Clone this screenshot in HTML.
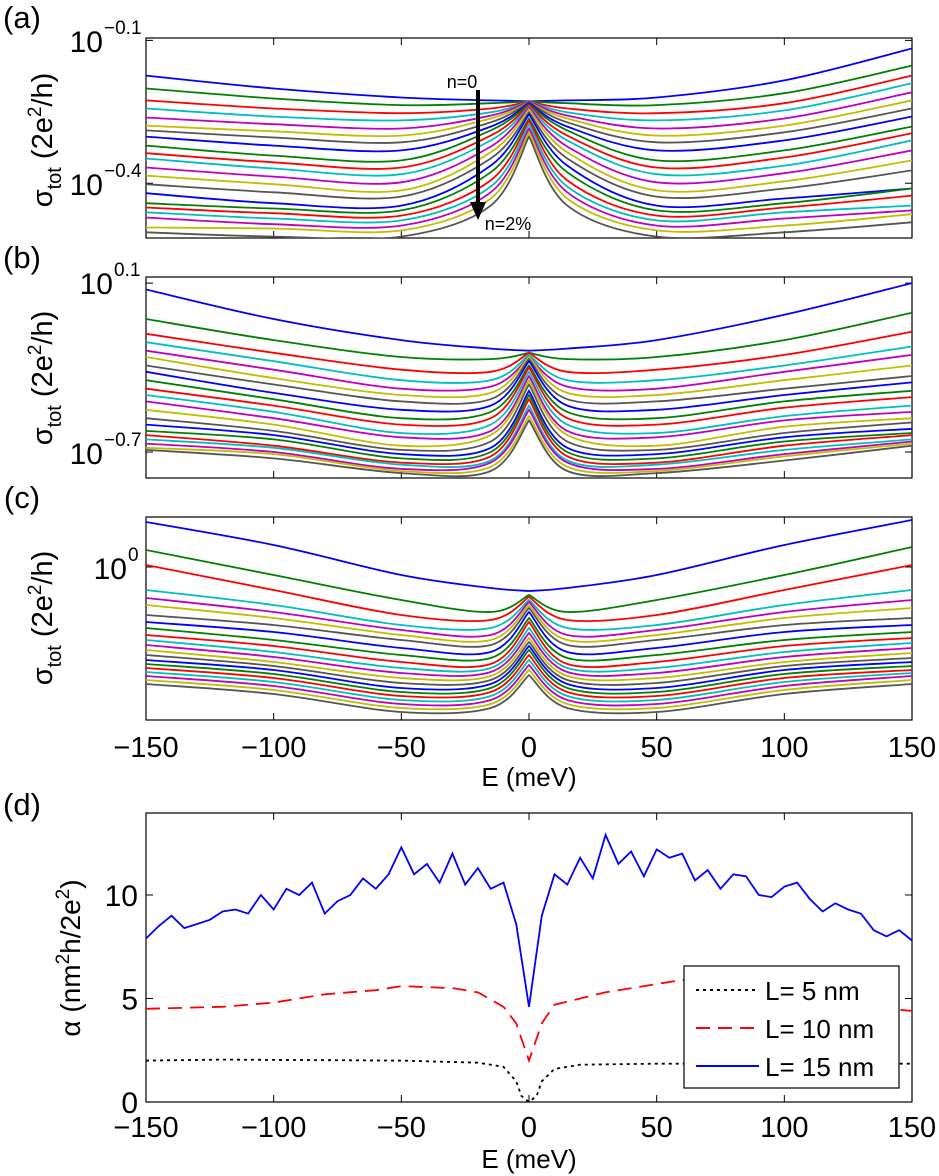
<!DOCTYPE html>
<html><head><meta charset="utf-8"><style>
body{margin:0;background:#fff}
svg{display:block;font-family:"Liberation Sans",sans-serif}
</style></head><body>
<svg id="fig" width="939" height="1176" viewBox="0 0 939 1176" xmlns="http://www.w3.org/2000/svg"></svg>
<script>
const energies=[-150,-100,-50,-15,0,15,50,100,150];
const tickE=[-150,-100,-50,0,50,100,150];
const tickELabels=["\u2212150","\u2212100","\u221250","0","50","100","150"];
const colors=["#0000ff","#008000","#ff0000","#00bfbf","#bf00bf","#bfbf00","#555555"];
const sigmaA=[
[-.174,-.201,-.220,-.226,-.228,-.226,-.220,-.184,-.117],
[-.201,-.222,-.236,-.232,-.228,-.232,-.236,-.211,-.153],
[-.226,-.243,-.253,-.243,-.228,-.243,-.253,-.232,-.174],
[-.243,-.260,-.268,-.251,-.228,-.251,-.268,-.247,-.190],
[-.262,-.276,-.285,-.258,-.228,-.258,-.285,-.264,-.209],
[-.279,-.291,-.300,-.264,-.230,-.264,-.300,-.279,-.226],
[-.289,-.304,-.314,-.272,-.230,-.272,-.314,-.293,-.243],
[-.302,-.321,-.331,-.281,-.232,-.281,-.331,-.310,-.260],
[-.321,-.342,-.352,-.289,-.234,-.289,-.352,-.331,-.281],
[-.337,-.356,-.367,-.300,-.236,-.300,-.367,-.346,-.295],
[-.348,-.369,-.381,-.310,-.239,-.310,-.381,-.363,-.310],
[-.367,-.386,-.398,-.323,-.241,-.323,-.398,-.379,-.331],
[-.384,-.402,-.415,-.335,-.245,-.335,-.415,-.396,-.352],
[-.402,-.419,-.428,-.348,-.251,-.348,-.428,-.411,-.373],
[-.421,-.442,-.447,-.363,-.255,-.363,-.447,-.432,-.411],
[-.442,-.453,-.457,-.377,-.264,-.377,-.457,-.442,-.411],
[-.451,-.463,-.468,-.394,-.268,-.394,-.468,-.451,-.426],
[-.461,-.474,-.478,-.407,-.276,-.407,-.478,-.461,-.447],
[-.472,-.486,-.489,-.419,-.285,-.419,-.489,-.474,-.457],
[-.493,-.495,-.499,-.432,-.293,-.432,-.499,-.489,-.465],
[-.503,-.512,-.512,-.447,-.302,-.447,-.512,-.503,-.482]];
const sigmaB=[
[.07,-.07,-.17,-.21,-.22,-.21,-.17,-.05,.10],
[-.07,-.17,-.25,-.26,-.23,-.26,-.25,-.17,-.04],
[-.14,-.23,-.31,-.32,-.23,-.32,-.31,-.24,-.13],
[-.18,-.27,-.36,-.36,-.24,-.36,-.36,-.29,-.20],
[-.22,-.31,-.40,-.39,-.25,-.39,-.40,-.32,-.24],
[-.25,-.35,-.43,-.42,-.25,-.42,-.43,-.36,-.29],
[-.29,-.38,-.46,-.45,-.26,-.45,-.46,-.40,-.34],
[-.32,-.42,-.50,-.48,-.27,-.48,-.50,-.43,-.37],
[-.36,-.45,-.54,-.51,-.29,-.51,-.54,-.46,-.41],
[-.40,-.48,-.57,-.54,-.30,-.54,-.57,-.49,-.44],
[-.43,-.51,-.61,-.57,-.32,-.57,-.61,-.53,-.48],
[-.46,-.54,-.63,-.60,-.34,-.60,-.63,-.55,-.51],
[-.50,-.57,-.67,-.62,-.36,-.62,-.67,-.58,-.54],
[-.54,-.60,-.69,-.65,-.38,-.65,-.69,-.61,-.56],
[-.57,-.62,-.71,-.68,-.41,-.68,-.71,-.63,-.59],
[-.60,-.64,-.73,-.70,-.43,-.70,-.73,-.65,-.61],
[-.62,-.67,-.75,-.72,-.45,-.72,-.75,-.67,-.62],
[-.64,-.68,-.76,-.74,-.48,-.74,-.76,-.69,-.64],
[-.66,-.70,-.78,-.75,-.50,-.75,-.78,-.71,-.65],
[-.68,-.71,-.79,-.77,-.53,-.77,-.79,-.72,-.66],
[-.69,-.73,-.80,-.79,-.55,-.79,-.80,-.74,-.67]];
const sigmaC=[
[.18,.088,-.032,-.084,-.096,-.084,-.032,.088,.188],
[.068,-.032,-.132,-.18,-.112,-.18,-.132,-.032,.08],
[.008,-.092,-.192,-.212,-.12,-.212,-.192,-.092,.008],
[-.092,-.152,-.232,-.244,-.132,-.244,-.232,-.152,-.092],
[-.124,-.18,-.252,-.272,-.14,-.272,-.252,-.18,-.132],
[-.152,-.204,-.272,-.292,-.152,-.292,-.272,-.204,-.164],
[-.192,-.232,-.292,-.312,-.164,-.312,-.292,-.232,-.204],
[-.22,-.26,-.324,-.34,-.18,-.34,-.324,-.26,-.232],
[-.244,-.292,-.352,-.364,-.204,-.364,-.352,-.292,-.26],
[-.272,-.316,-.38,-.388,-.22,-.388,-.38,-.316,-.284],
[-.292,-.34,-.404,-.404,-.244,-.404,-.404,-.34,-.304],
[-.312,-.36,-.424,-.42,-.264,-.42,-.424,-.36,-.324],
[-.332,-.38,-.444,-.436,-.284,-.436,-.444,-.38,-.344],
[-.352,-.396,-.464,-.452,-.3,-.452,-.464,-.396,-.364],
[-.372,-.412,-.484,-.468,-.316,-.468,-.484,-.412,-.38],
[-.388,-.428,-.5,-.484,-.332,-.484,-.5,-.428,-.396],
[-.404,-.444,-.516,-.5,-.352,-.5,-.516,-.444,-.412],
[-.42,-.46,-.532,-.516,-.372,-.516,-.532,-.46,-.424],
[-.436,-.476,-.548,-.532,-.392,-.532,-.548,-.476,-.436],
[-.452,-.492,-.564,-.548,-.412,-.548,-.564,-.492,-.452],
[-.468,-.508,-.58,-.564,-.432,-.564,-.58,-.508,-.468]];
const energiesD=[-150,-145,-140,-135,-130,-125,-120,-115,-110,-105,-100,-95,-90,-85,-80,-75,-70,-65,-60,-55,-50,-45,-40,-35,-30,-25,-20,-15,-10,-5,0,5,10,15,20,25,30,35,40,45,50,55,60,65,70,75,80,85,90,95,100,105,110,115,120,125,130,135,140,145,150];
const alphaL15=[7.9,8.5,9.0,8.4,8.6,8.8,9.2,9.3,9.1,10.0,9.3,10.3,10.0,10.6,9.1,9.7,10.0,10.8,10.3,11.0,12.3,11.0,11.5,10.6,12.0,10.5,11.3,10.3,10.6,8.6,4.6,9.0,11.0,10.5,11.8,10.8,12.9,11.5,12.1,10.9,12.2,11.8,12.0,10.7,11.2,10.3,11.0,10.9,10.0,9.9,10.4,10.6,9.8,9.2,9.6,9.3,9.1,8.3,8.0,8.3,7.8];
const energiesL10=[-150,-120,-100,-80,-60,-50,-30,-20,-10,-5,0,5,10,20,30,50,60,80,100,120,140,150];
const alphaL10=[4.5,4.6,4.8,5.2,5.4,5.6,5.5,5.3,4.6,3.8,2.0,3.8,4.7,5.0,5.3,5.7,5.9,5.7,5.3,4.8,4.5,4.4];
const energiesL5=[-150,-120,-50,-20,-10,-5,-3,0,3,5,10,20,50,100,150];
const alphaL5=[2.0,2.05,2.0,1.9,1.7,1.0,0.3,0,0.3,1.0,1.6,1.8,1.85,1.85,1.85];

const NS="http://www.w3.org/2000/svg";
const svg=document.getElementById('fig');
function mk(tag,attrs,parent){const e=document.createElementNS(NS,tag);for(const k in attrs)e.setAttribute(k,attrs[k]);(parent||svg).appendChild(e);return e;}
const X0=146,X1=912;
const xs=e=>X0+(e+150)/300*(X1-X0);
function txt(s,x,y,size,anchor,parent){const t=mk('text',{x:x,y:y,'font-size':size,'text-anchor':anchor||'middle',fill:'#000'},parent);t.textContent=s;return t;}
function powLabel(exp,xEnd,y){txt('10',xEnd,y,30,'end');txt(exp,xEnd+1,y-18,19,'start');}
function crPath(pts){
 let d='M'+pts[0][0].toFixed(1)+','+pts[0][1].toFixed(1);
 for(let i=0;i<pts.length-1;i++){const p0=pts[Math.max(0,i-1)],p1=pts[i],p2=pts[i+1],p3=pts[Math.min(pts.length-1,i+2)];
  const c1=[p1[0]+(p2[0]-p0[0])/6,p1[1]+(p2[1]-p0[1])/6],c2=[p2[0]-(p3[0]-p1[0])/6,p2[1]-(p3[1]-p1[1])/6];
  d+=' C'+c1[0].toFixed(1)+','+c1[1].toFixed(1)+' '+c2[0].toFixed(1)+','+c2[1].toFixed(1)+' '+p2[0].toFixed(1)+','+p2[1].toFixed(1);}
 return d;}
function frame(id,top,bot,yt){
 mk('rect',{x:X0,y:top,width:X1-X0,height:bot-top,fill:'none',stroke:'#000','stroke-width':1.2});
 tickE.forEach(e=>{mk('line',{x1:xs(e),x2:xs(e),y1:bot,y2:bot-7,stroke:'#000'});mk('line',{x1:xs(e),x2:xs(e),y1:top,y2:top+7,stroke:'#000'});});
 yt.forEach(y=>{mk('line',{x1:X0,x2:X0+7,y1:y,y2:y,stroke:'#000'});mk('line',{x1:X1,x2:X1-7,y1:y,y2:y,stroke:'#000'});});
 const cp=mk('clipPath',{id:'clip'+id});mk('rect',{x:X0,y:top,width:X1-X0,height:bot-top},cp);
}
function sigmaPanel(id,data,top,bot,vTop,vBot){
 const ys=v=>top+(vTop-v)/(vTop-vBot)*(bot-top);
 const g=mk('g',{'clip-path':'url(#clip'+id+')'});
 
 
 data.forEach((row,i)=>{
  const pts=energies.map((e,j)=>[xs(e),ys(row[j])]);
  const mid=energies.indexOf(0);
  const d=crPath(pts.slice(0,mid+1))+' '+crPath(pts.slice(mid)).replace('M','L');
  const p=mk('path',{d:d,fill:'none',stroke:colors[i%7],'stroke-width':1.8},g);
  
  
 });
 return ys;
}
// Panel a
{const top=38,bot=238,vT=-0.095,vB=-0.515;
 const ys=v=>top+(vT-v)/(vT-vB)*(bot-top);
 frame('a',top,bot,[ys(-0.1),ys(-0.4)]);
 sigmaPanel('a',sigmaA,top,bot,vT,vB);
 txt('(a)',22,28,31);
 powLabel('\u22120.1',103,52);
 powLabel('\u22120.4',103,195);
 mk('line',{x1:478,y1:90,x2:478,y2:206,stroke:'#000','stroke-width':4});
 mk('polygon',{points:'470,202 486,202 478,220',fill:'#000'});
 const n0=txt('n=0',462,88,18);
 const n2=txt('n=2%',508,230,18);
}
// Panel b
{const top=277,bot=478,vT=0.129,vB=-0.823;
 const ys=v=>top+(vT-v)/(vT-vB)*(bot-top);
 frame('b',top,bot,[ys(0.1),ys(-0.7)]);
 sigmaPanel('b',sigmaB,top,bot,vT,vB);
 txt('(b)',22,268,31);
 powLabel('0.1',113,294);
 powLabel('\u22120.7',103,464);
}
// Panel c
{const top=517,bot=720,vT=0.2,vB=-0.612;
 const ys=v=>top+(vT-v)/(vT-vB)*(bot-top);
 frame('c',top,bot,[ys(0)]);
 sigmaPanel('c',sigmaC,top,bot,vT,vB);
 txt('(c)',22,508,31);
 powLabel('0',127,579);
 tickE.forEach((e,i)=>txt(tickELabels[i],xs(e),757,29));
 txt('E (meV)',529,786,26);
}
[[140,'a'],[378,'b'],[618,'c']].forEach(([cy,id])=>{
 const t=mk('text',{transform:'translate(52,'+cy+') rotate(-90)','font-size':29,'text-anchor':'middle'});
 
 t.innerHTML='σ<tspan font-size="20" dy="9">tot</tspan><tspan dy="-9"> (2e</tspan><tspan font-size="19" dy="-11">2</tspan><tspan dy="11">/h)</tspan>';
});
// Panel d
{const top=813,bot=1102,vT=13.96,vB=0;
 const ys=v=>top+(vT-v)/(vT-vB)*(bot-top);
 frame('d',top,bot,[ys(0),ys(5),ys(10)]);
 txt('(d)',22,815,31);
 [[0,'0'],[5,'5'],[10,'10']].forEach(([v,s])=>txt(s,138,ys(v)+11,30,'end'));
 tickE.forEach((e,i)=>txt(tickELabels[i],xs(e),1137,29));
 txt('E (meV)',529,1168,26);
 const t=mk('text',{transform:'translate(80,958) rotate(-90)','font-size':28,'text-anchor':'middle'});
 
 t.innerHTML='α (nm<tspan font-size="19" dy="-11">2</tspan><tspan dy="11">h/2e</tspan><tspan font-size="19" dy="-11">2</tspan><tspan dy="11">)</tspan>';
 const g=mk('g',{'clip-path':'url(#clipd)'});
 const line=(E,A,col,dash,name)=>{const d='M'+E.map((e,j)=>xs(e).toFixed(1)+','+ys(A[j]).toFixed(1)).join(' L');
  const p=mk('path',{d:d,fill:'none',stroke:col,'stroke-width':1.8,'stroke-dasharray':dash},g);
  };
 line(energiesL5,alphaL5,'#000','3,4','series-l5');
 line(energiesL10,alphaL10,'#ff0000','14,8','series-l10');
 line(energiesD,alphaL15,'#0000ff','','series-l15');
 const lg=mk('g',{});
 mk('rect',{x:684,y:966,width:215,height:122,fill:'#fff',stroke:'#000','stroke-width':1.2},lg);
 [['L= 5 nm','#000','3,4'],['L= 10 nm','#ff0000','14,8'],['L= 15 nm','#0000ff','']].forEach(([s,c,da],i)=>{
  const y=990+i*38;
  mk('line',{x1:696,x2:759,y1:y,y2:y,stroke:c,'stroke-width':2,'stroke-dasharray':da},lg);
  txt(s,765,y+10,26,'start',lg);
 });
}
</script>
</body></html>
